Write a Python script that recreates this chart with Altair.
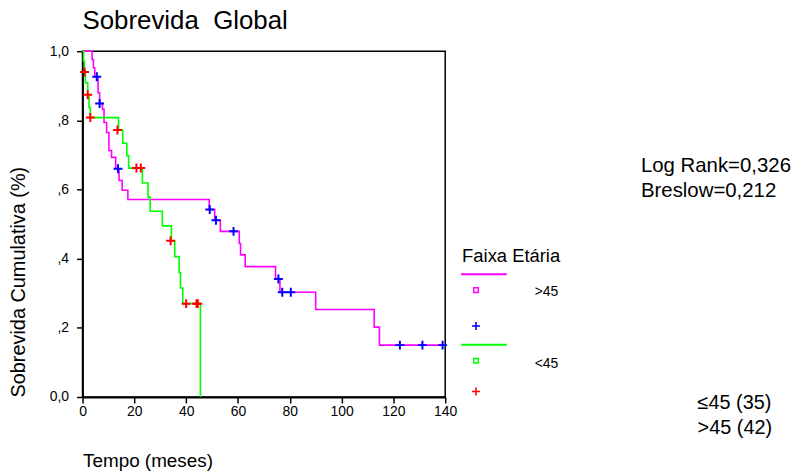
import altair as alt
import pandas as pd

# ---------------- data ----------------
# Faixa Etária >45  (Kaplan-Meier steps)
gt_time = [0, 3.7, 4.2, 4.7, 6.0, 6.6, 7.7, 8.3, 9.3, 10.2, 11.2, 12.8, 14.1, 15.3, 17.5,
           48.9, 51.0, 53.2, 60.5, 61.0, 62.8, 74.5, 76.2, 90.0, 112.6, 114.6, 139.8]
gt_surv = [1.0, 0.976, 0.952, 0.926, 0.880, 0.849, 0.832, 0.794, 0.765, 0.713, 0.693, 0.660,
           0.626, 0.598, 0.571, 0.542, 0.511, 0.479, 0.444, 0.411, 0.377, 0.341, 0.303, 0.253,
           0.202, 0.150, 0.150]
# censored cases >45
gt_cens_time = [5.5, 6.6, 13.7, 49.1, 51.5, 58.3, 75.6, 77.1, 80.4, 122.5, 131.2, 139.0]
gt_cens_surv = [0.926, 0.849, 0.660, 0.542, 0.511, 0.479, 0.341, 0.303, 0.303, 0.150, 0.150, 0.150]

# Faixa Etária <45
le_time = [0, 0.4, 0.7, 1.1, 2.0, 2.5, 3.0, 13.9, 15.5, 17.1, 17.8, 23.1, 25.3, 26.1,
           30.8, 34.3, 35.6, 37.3, 37.8, 38.7, 45.5]
le_surv = [1.0, 0.971, 0.943, 0.909, 0.874, 0.837, 0.808, 0.772, 0.734, 0.698, 0.662, 0.619,
           0.578, 0.537, 0.495, 0.452, 0.406, 0.360, 0.315, 0.270, 0.0]
# censored cases <45
le_cens_time = [0.8, 2.0, 3.0, 13.5, 20.8, 22.5, 34.0, 40.0, 44.0, 44.5]
le_cens_surv = [0.940, 0.874, 0.808, 0.772, 0.662, 0.662, 0.452, 0.270, 0.270, 0.270]

x_ticks = [0, 20, 40, 60, 80, 100, 120, 140]
y_ticks = [0, 0.2, 0.4, 0.6, 0.8, 1.0]

title_text = "Sobrevida\u00a0 Global"
x_title = "Tempo (meses)"
y_title = "Sobrevida Cumulativa (%)"
legend_title = "Faixa Etária"
legend_labels = [">45", "<45"]
stats = ["Log Rank=0,326", "Breslow=0,212"]
counts = ["≤45 (35)", ">45 (42)"]

# ---------------- styling ----------------
FONT = "Liberation Sans"
W, H = 365, 348
MAGENTA, GREEN, BLUE, RED = "#FF00FF", "#00FF00", "#0000FF", "#FF0000"
PLUS = "M-1,0H1M0,-1V1"

xs = alt.Scale(domain=[0, 140], nice=False, zero=False)
ys = alt.Scale(domain=[0, 1], nice=False)

x_axis = alt.Axis(values=x_ticks, title=x_title, titleFont=FONT, titleFontSize=19,
                  titleFontWeight="normal", titleColor="black", titleAnchor="start",
                  titleAlign="left", titleBaseline="alphabetic", titleX=0, titleY=70,
                  labelPadding=2, labelFlush=False)
y_axis = alt.Axis(values=y_ticks, title=y_title, titleFont=FONT, titleFontSize=20,
                  titleFontWeight="normal", titleColor="black", titleBaseline="alphabetic",
                  titleX=-58, titleY=H, titleAlign="left", titleAngle=270,
                  labelPadding=8,
                  labelExpr="datum.value == 0 ? '0,0' : (datum.value == 1 ? '1,0' : ',' + format(datum.value * 10, 'd'))")


def curve(times, surv, color):
    df = pd.DataFrame({"t": times, "s": surv})
    return alt.Chart(df).mark_line(interpolate="step-after", color=color, strokeWidth=1.6).encode(
        x=alt.X("t:Q", scale=xs, axis=x_axis),
        y=alt.Y("s:Q", scale=ys, axis=y_axis),
    )


def censors(times, surv, color):
    df = pd.DataFrame({"t": times, "s": surv})
    return alt.Chart(df).mark_point(shape=PLUS, size=81, color=color, strokeWidth=2,
                                    filled=False, opacity=1).encode(
        x=alt.X("t:Q", scale=xs, axis=x_axis),
        y=alt.Y("s:Q", scale=ys, axis=y_axis),
    )


one = pd.DataFrame({"a": [0]})


def label(text, x, y, size, align="left"):
    return alt.Chart(one).mark_text(text=text, align=align, baseline="alphabetic", font=FONT,
                                    fontSize=size, color="black").encode(
        x=alt.value(x), y=alt.value(y))


def hline(x1, x2, y, color):
    return alt.Chart(one).mark_rule(color=color, strokeWidth=2).encode(
        x=alt.value(x1), x2=alt.value(x2), y=alt.value(y))


def sym(x, y, shape, color, size, sw):
    return alt.Chart(one).mark_point(shape=shape, size=size, color=color, strokeWidth=sw,
                                     filled=False, opacity=1).encode(
        x=alt.value(x), y=alt.value(y))


layers = [
    curve(gt_time, gt_surv, MAGENTA),
    curve(le_time, le_surv, GREEN),
    censors(gt_cens_time, gt_cens_surv, BLUE),
    censors(le_cens_time, le_cens_surv, RED),
    # title
    label(title_text, 0, -22, 26),
    # legend
    label(legend_title, 382, 212, 18.5),
    hline(381, 427, 224.5, MAGENTA),
    sym(396, 240.5, "square", MAGENTA, 22, 1.5),
    label(legend_labels[0], 455, 246.5, 14),
    sym(396, 276.5, PLUS, BLUE, 64, 1.6),
    hline(381, 427, 295.5, GREEN),
    sym(396, 311.5, "square", GREEN, 22, 1.5),
    label(legend_labels[1], 455, 319, 14),
    sym(396, 342.5, PLUS, RED, 64, 1.6),
    # statistics
    label(stats[0], 562, 122, 20.5),
    label(stats[1], 562, 147, 20.5),
    label(counts[0], 619, 360, 20),
    label(counts[1], 619, 385, 20),
]

chart = alt.layer(*layers).properties(
    width=W, height=H,
    autosize=alt.AutoSizeParams(type="none"),
    padding={"left": 75, "top": 42, "right": 350, "bottom": 74},
).configure_view(
    stroke="black", strokeWidth=1.5
).configure_axis(
    grid=False, domainColor="black", domainWidth=1.8, tickColor="black", tickWidth=1.5,
    tickSize=6, labelFont=FONT, labelFontSize=14, labelColor="black",
)

chart.save("out.html", embed_options={"renderer": "svg", "actions": False})
